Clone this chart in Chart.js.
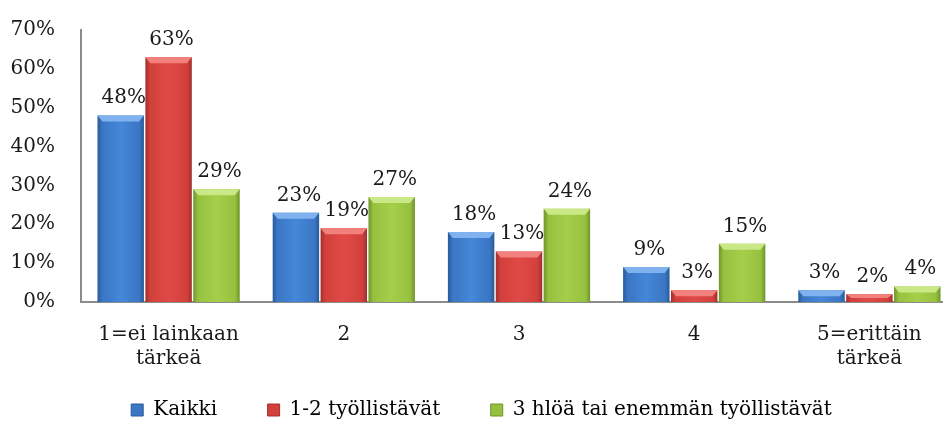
<!DOCTYPE html>
<html>
<head>
<meta charset="utf-8">
<script src="https://cdn.jsdelivr.net/npm/chart.js@4/dist/chart.umd.min.js"></script>
<style>
  html, body { margin: 0; padding: 0; background: #fff; }
  canvas { display: block; }
</style>
</head>
<body>
<canvas id="myChart" width="943" height="430"></canvas>
<script>
const categories = [["1=ei lainkaan", "tärkeä"], "2", "3", "4", ["5=erittäin", "tärkeä"]];
const seriesNames = ["Kaikki", "1-2 työllistävät", "3 hlöä tai enemmän työllistävät"];
const kaikki = [48, 23, 18, 9, 3];
const pienet = [63, 19, 13, 3, 2];
const isot = [29, 27, 24, 15, 4];
const yTicks = [0, 10, 20, 30, 40, 50, 60, 70];

const FONT = "'DejaVu Serif', serif";
const TEXT = "#1a1a1a";

// base, edge (dark), light centre, top bevel
const colors = {
  blue: { base: "#3a76c4", edge: "#285a98", light: "#4587d8", top: "#7fb2ee" },
  red: { base: "#d2403c", edge: "#a0302d", light: "#e04a46", top: "#f2807c" },
  green: { base: "#96c13f", edge: "#6f932b", light: "#a5cf4a", top: "#cbe887" },
};

// the plot area in the original runs past the right edge of the picture
const PLOT_RIGHT = 957;
const LEGEND_SHIFT = 20;

const barLook = {
  id: "barLook",
  afterLayout(chart) {
    const x = chart.scales.x;
    x.right = PLOT_RIGHT;
    x.width = x.right - x.left;
    chart.chartArea.right = PLOT_RIGHT;
    chart.chartArea.width = PLOT_RIGHT - chart.chartArea.left;
    x.configure();
    // legend in the original sits a bit right of the middle
    const lg = chart.legend;
    lg.left += LEGEND_SHIFT;
    lg.width = lg.right - lg.left;
  },
  beforeDatasetsDraw(chart) {
    const ctx = chart.ctx;
    chart.data.datasets.forEach((ds, di) => {
      const c = ds.palette;
      chart.getDatasetMeta(di).data.forEach((el) => {
        const { x, width } = el.getProps(["x", "width"], true);
        const g = ctx.createLinearGradient(x - width / 2, 0, x + width / 2, 0);
        g.addColorStop(0, c.edge);
        g.addColorStop(0.1, c.base);
        g.addColorStop(0.5, c.light);
        g.addColorStop(0.9, c.base);
        g.addColorStop(1, c.edge);
        el.options.backgroundColor = g;
      });
    });
  },
  afterDatasetsDraw(chart) {
    const ctx = chart.ctx;
    ctx.save();
    chart.data.datasets.forEach((ds, di) => {
      const c = ds.palette;
      chart.getDatasetMeta(di).data.forEach((el, i) => {
        const { x, y, base, width } = el.getProps(["x", "y", "base", "width"], true);
        const l = x - width / 2, r = x + width / 2;
        const bev = Math.min(6, (base - y) / 2);
        ctx.fillStyle = c.top;
        ctx.beginPath();
        ctx.moveTo(l, y);
        ctx.lineTo(r, y);
        ctx.lineTo(r - 5, y + bev);
        ctx.lineTo(l + 5, y + bev);
        ctx.closePath();
        ctx.fill();
        // value label
        ctx.fillStyle = TEXT;
        ctx.font = "20px " + FONT;
        ctx.textAlign = "center";
        ctx.textBaseline = "alphabetic";
        ctx.fillText(ds.data[i] + "%", x + 3, y - 12);
      });
    });
    ctx.restore();
  },
};

const mk = (label, data, palette) => ({
  label,
  data,
  palette,
  backgroundColor: () => palette.base,
  borderWidth: 0,
  barPercentage: 0.97,
  categoryPercentage: 0.82,
});

const config = {
  type: "bar",
  data: {
    labels: categories,
    datasets: [
      mk(seriesNames[0], kaikki, colors.blue),
      mk(seriesNames[1], pienet, colors.red),
      mk(seriesNames[2], isot, colors.green),
    ],
  },
  options: {
    responsive: false,
    animation: false,
    layout: { padding: { top: 6, right: 0, bottom: 0, left: 0 } },
    plugins: {
      tooltip: { enabled: false },
      legend: {
        position: "bottom",
        labels: {
          color: TEXT,
          font: { family: FONT, size: 20 },
          boxWidth: 12,
          boxHeight: 12,
          padding: 6,
          generateLabels(chart) {
            const n = chart.data.datasets.length;
            return chart.data.datasets.map((ds, i) => ({
              text: i < n - 1 ? ds.label + "       " : ds.label,
              fillStyle: ds.palette.base,
              strokeStyle: ds.palette.edge,
              lineWidth: 1,
              datasetIndex: i,
              hidden: false,
            }));
          },
        },
      },
    },
    scales: {
      x: {
        grid: { display: false },
        border: { color: "#8c8c8c", width: 2 },
        ticks: { color: TEXT, font: { family: FONT, size: 20 }, padding: 13, maxRotation: 0 },
        afterFit(scale) { scale.height = 92; },
      },
      y: {
        min: 0,
        max: 70,
        grid: { display: false },
        border: { color: "#8c8c8c", width: 2 },
        afterBuildTicks(scale) { scale.ticks = yTicks.map((v) => ({ value: v })); },
        ticks: {
          color: TEXT,
          font: { family: FONT, size: 20 },
          padding: 18,
          callback: (v) => v + "%",
        },
        afterFit(scale) { scale.width = 81; },
      },
    },
  },
  plugins: [barLook],
};

new Chart(document.getElementById("myChart").getContext("2d"), config);
</script>
</body>
</html>
